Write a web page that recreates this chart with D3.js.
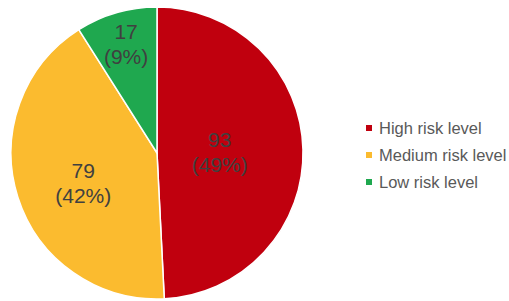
<!DOCTYPE html>
<html>
<head>
<meta charset="utf-8">
<script src="https://cdn.jsdelivr.net/npm/d3@7"></script>
<style>
	html, body { margin: 0; padding: 0; background: #fff; }
	svg { display: block; font-family: "Liberation Sans", Arial, sans-serif; }
</style>
</head>
<body>
<svg id="chart"></svg>
<script>
;(() => {
	'use strict';

	// chart data
	const categories = ['High risk level', 'Medium risk level', 'Low risk level'],
		counts = [93, 79, 17],
		percentLabels = ['49%', '42%', '9%'],
		colors = ['#c0000e', '#fbbb2f', '#1fa84f'];

	const width = 509,
		height = 301,
		cx = 157,
		cy = 153,
		radius = 146,
		labelRadii = [0.43, 0.53, 0.76],// label distance from centre, as fraction of radius
		labelNudge = [0, 6, -3];// small vertical tweak per label

	const svg = d3.select('#chart')
		.attr('width', width)
		.attr('height', height);

	const pie = d3.pie().sort(null).value((d) => d.value);
	const arc = d3.arc().innerRadius(0).outerRadius(radius);

	const data = categories.map((c, i) => ({
		name: c, value: counts[i], pct: percentLabels[i], color: colors[i], lr: labelRadii[i], nudge: labelNudge[i]
	}));
	const arcs = pie(data);

	const g = svg.append('g').attr('transform', `translate(${cx},${cy})`);

	g.selectAll('path.slice')
		.data(arcs)
		.enter()
		.append('path')
		.attr('class', 'slice')
		.attr('d', arc)
		.attr('fill', (d) => d.data.color)
		.attr('stroke', '#fff')
		.attr('stroke-width', 1.5);

	// value labels
	const labels = g.selectAll('text.label')
		.data(arcs)
		.enter()
		.append('text')
		.attr('class', 'label')
		.attr('transform', (d) => {
			const r = radius * d.data.lr;
			const c = d3.arc().innerRadius(r).outerRadius(r).centroid(d);
			return `translate(${c[0]},${c[1] + d.data.nudge})`;
		})
		.attr('text-anchor', 'middle')
		.attr('fill', '#404040')
		.style('font-size', '21px');

	labels.append('tspan')
		.attr('x', 0)
		.attr('dy', '-0.2em')
		.text((d) => d.data.value);
	labels.append('tspan')
		.attr('x', 0)
		.attr('dy', '1.2em')
		.text((d) => '(' + d.data.pct + ')');

	// legend
	const legendY = d3.scalePoint().domain(categories).range([128, 182]);

	const legend = svg.selectAll('g.legend-item')
		.data(data)
		.enter()
		.append('g')
		.attr('class', 'legend-item')
		.attr('transform', (d) => `translate(366,${legendY(d.name)})`);

	legend.append('rect')
		.attr('x', 0)
		.attr('y', -3)
		.attr('width', 6)
		.attr('height', 6)
		.attr('fill', (d) => d.color);

	legend.append('text')
		.attr('x', 13)
		.attr('dy', '0.35em')
		.attr('fill', '#595959')
		.style('font-size', '16.5px')
		.text((d) => d.name);
})();
</script>
</body>
</html>
